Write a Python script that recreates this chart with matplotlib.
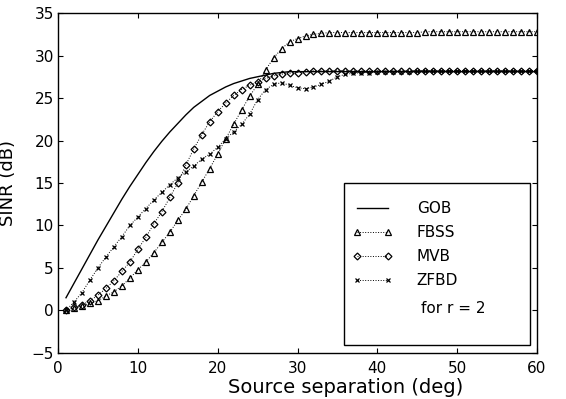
import matplotlib
matplotlib.use("Agg")
import matplotlib.pyplot as plt
from matplotlib.patches import Rectangle

plt.rcParams["font.family"] = ["DejaVu Sans"]

# source separation in degrees, one sample per degree
sep = list(range(1, 61))

gob = [1.5, 3.2, 4.9, 6.6, 8.3, 9.9, 11.5, 13.1, 14.6, 16.0,
       17.4, 18.7, 19.9, 21.0, 22.0, 23.0, 23.9, 24.6, 25.3, 25.8,
       26.3, 26.7, 27.0, 27.3, 27.5, 27.7, 27.9, 28.0, 28.1, 28.1] + [28.1] * 30

fbss = [0.0, 0.3, 0.55, 0.85, 1.15, 1.7, 2.2, 2.9, 3.8, 4.8,
        5.7, 6.8, 8.0, 9.2, 10.6, 11.9, 13.5, 15.1, 16.7, 18.4,
        20.2, 21.9, 23.6, 25.2, 26.6, 28.3, 29.7, 30.8, 31.6, 32.0,
        32.3, 32.5, 32.6, 32.7, 32.7, 32.7, 32.7, 32.7, 32.7, 32.7,
        32.7, 32.7, 32.7, 32.7, 32.7, 32.8, 32.8, 32.8, 32.8, 32.8,
        32.8, 32.8, 32.8, 32.8, 32.8, 32.8, 32.8, 32.8, 32.8, 32.8]

mvb = [0.0, 0.4, 0.65, 1.15, 1.8, 2.6, 3.5, 4.6, 5.7, 7.2,
       8.6, 10.2, 11.6, 13.3, 15.0, 17.1, 19.0, 20.7, 22.2, 23.4,
       24.4, 25.3, 26.0, 26.5, 26.9, 27.3, 27.6, 27.8, 27.9, 28.0,
       28.1] + [28.2] * 29

zfbd = [0.0, 1.0, 2.1, 3.6, 5.0, 6.3, 7.5, 8.7, 10.0, 11.0,
        12.0, 13.0, 13.9, 14.8, 15.6, 16.3, 17.0, 17.8, 18.4, 19.2,
        20.2, 21.0, 21.9, 23.1, 24.8, 26.0, 26.6, 26.8, 26.5, 26.2,
        26.1, 26.3, 26.6, 27.0, 27.5, 27.8, 27.9, 28.0, 28.0, 28.1,
        28.1, 28.1, 28.1, 28.1, 28.2, 28.2, 28.2, 28.2, 28.2, 28.2,
        28.2, 28.2, 28.2, 28.2, 28.2, 28.2, 28.2, 28.2, 28.2, 28.2]

fig = plt.figure(figsize=(5.66, 3.99), dpi=100)
ax = fig.add_axes([0.1025, 0.1153, 0.8463, 0.8521])

ax.plot(sep, gob, color="black", linewidth=1.0, label="GOB")
ax.plot(sep, fbss, color="black", linestyle=":", linewidth=0.7, marker="^",
        markersize=4.5, markerfacecolor="none", markeredgewidth=0.9, label="FBSS")
ax.plot(sep, mvb, color="black", linestyle=":", linewidth=0.7, marker="D",
        markersize=3.5, markerfacecolor="none", markeredgewidth=0.9, label="MVB")
ax.plot(sep, zfbd, color="black", linestyle=":", linewidth=0.7, marker="x",
        markersize=3.5, markeredgewidth=0.9, label="ZFBD")

ax.set_xlim(0, 60)
ax.set_ylim(-5, 35)
ax.set_xticks(range(0, 61, 10))
ax.set_yticks(range(-5, 36, 5))
ax.tick_params(direction="in", top=True, right=True, length=3.5, width=0.8,
               labelsize=11, colors="black")
ax.tick_params(axis="x", pad=6)
ax.tick_params(axis="y", pad=3)
for s in ax.spines.values():
    s.set_linewidth(1.0)

ax.set_xlabel("Source separation (deg)", fontsize=14)
ax.set_ylabel("SINR (dB)", fontsize=13)
ax.xaxis.set_label_coords(0.6, -0.075)
ax.yaxis.set_label_coords(-0.085, 0.5)

# legend frame drawn as a box, entries placed inside it
ax.add_patch(Rectangle((0.597, 0.0235), 0.388, 0.4765, transform=ax.transAxes,
                       facecolor="white", edgecolor="black", linewidth=1.0, zorder=3))
handles, labels = ax.get_legend_handles_labels()
leg = ax.legend(handles, labels, loc="upper left", bbox_to_anchor=(0.614, 0.446),
                frameon=False, borderpad=0, numpoints=2, handlelength=2.68,
                handletextpad=1.55, labelspacing=0.58, fontsize=11, borderaxespad=0)
leg.set_zorder(4)
ax.text(0.757, 0.132, "for r = 2", transform=ax.transAxes, fontsize=11,
        ha="left", va="center", zorder=5)

fig.savefig("out.png", dpi=100)
